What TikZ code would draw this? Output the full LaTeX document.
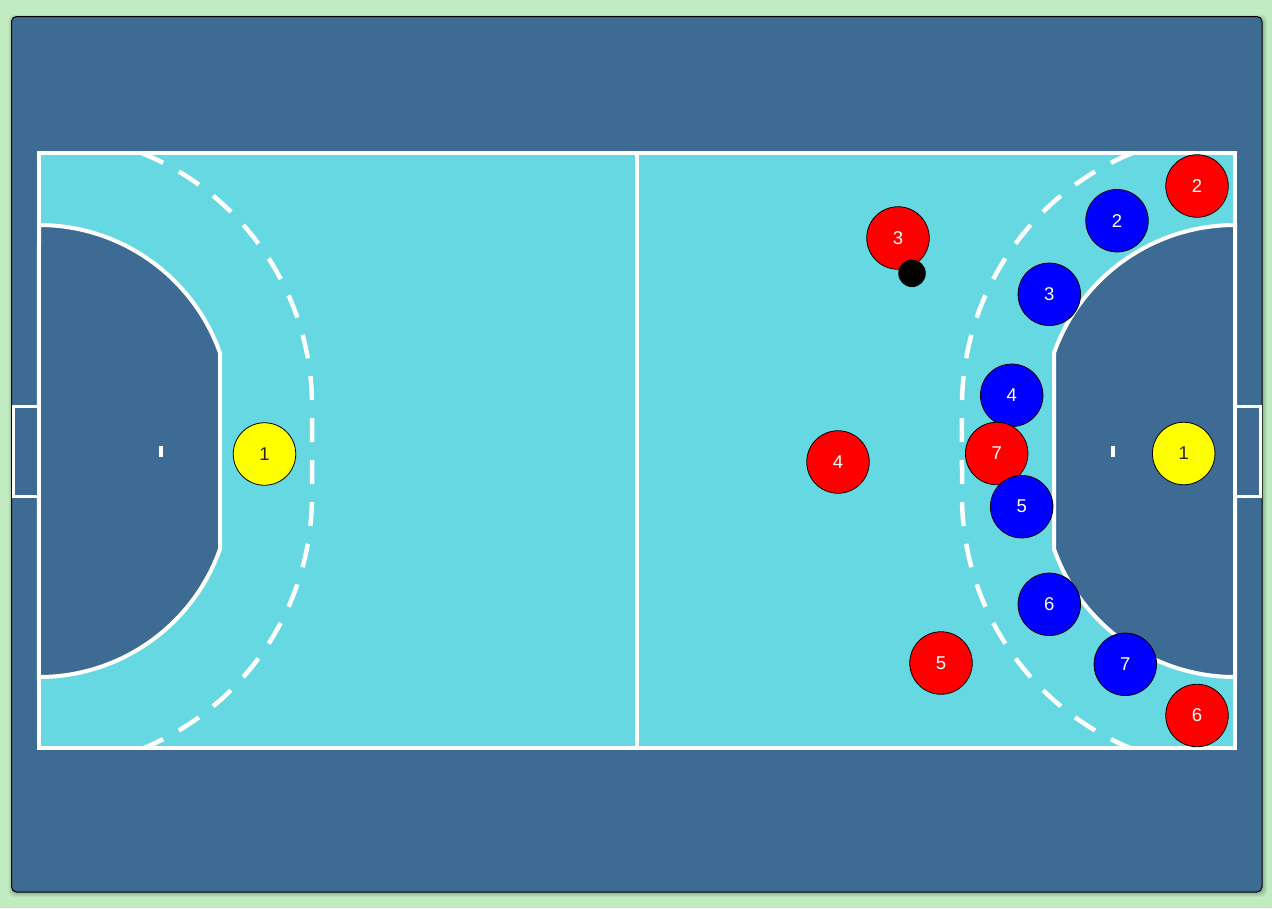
\documentclass[tikz,border=0pt]{standalone}
\usepackage{fontspec}
\setmainfont{Liberation Sans}
\definecolor{bggreen}{HTML}{C1ECC1}
\definecolor{darkblue}{HTML}{3E6B93}
\definecolor{courtcyan}{HTML}{66D8E2}
\definecolor{pred}{HTML}{FF0000}
\definecolor{pblue}{HTML}{0000FF}
\definecolor{pyellow}{HTML}{FFFF00}
\newcommand{\myHalfCourt}{%
  % 6 m goal area
  \filldraw[fill=darkblue, draw=white, line width=4pt]
    (39,225) arc[start angle=-90, end angle=-19.47, radius=192]
    -- (220,549) arc[start angle=19.47, end angle=90, radius=192] -- cycle;
  % 9 m dashed line
  \begin{scope}
    \clip (39,153) rectangle (1235,748);
    \draw[white, line width=4.5pt, dash pattern=on 24pt off 18pt]
      (141.3,152.9) arc[start angle=-68, end angle=0, radius=273]
      -- (312,496) arc[start angle=0, end angle=70, radius=273];
  \end{scope}
  % goalkeeper tick
  \fill[white] (159,446) rectangle (163,457);
  % goal
  \draw[white, line width=3pt, fill=darkblue] (39,406) -- (13.5,406) -- (13.5,496) -- (39,496);
}
\begin{document}
\begin{tikzpicture}[x=1pt, y=-1pt,
  player/.style={circle, draw=black, line width=0.8pt, minimum size=62.5pt, inner sep=0pt,
    font=\fontsize{18.5}{18.5}\selectfont},
  redp/.style={player, fill=pred, text=white},
  bluep/.style={player, fill=pblue, text=white},
  yellowp/.style={player, fill=pyellow, text=black!85},
  ballst/.style={circle, fill=black, minimum size=27.5pt, inner sep=0pt}]
\fill[bggreen] (0,0) rectangle (1272,908);
\useasboundingbox (0,0) rectangle (1272,908);
% shadow
\foreach \o/\a in {5/0.04,4/0.05,3/0.06,2/0.07}{
  \fill[black, opacity=\a, rounded corners=6pt] (11.5-\o+2,16.5-\o+3) rectangle (1262+\o,892+\o);
}
\draw[black, line width=1pt, fill=darkblue, rounded corners=5pt] (11.5,16.5) rectangle (1262,892);
% court
\fill[courtcyan] (39,153) rectangle (1235,748);
\myHalfCourt
\begin{scope}[xshift=1274pt, xscale=-1]
  \myHalfCourt
\end{scope}
\draw[white, line width=4pt] (39,153) rectangle (1235,748);
\draw[white, line width=4pt] (637,153) -- (637,748);
% players
\node[yellowp] (y1l) at (264.5,454) {1};
\node[yellowp] (y1r) at (1183.7,453.5) {1};
\node[redp] (r3) at (898,238) {3};
\node[ballst] (ball) at (912,273.3) {};
\node[redp] (r2) at (1197,186) {2};
\node[redp] (r4) at (838,462) {4};
\node[redp] (r5) at (941,663) {5};
\node[redp] (r6) at (1197,715.5) {6};
\node[bluep] (b2) at (1117,220.7) {2};
\node[bluep] (b3) at (1049.3,294.3) {3};
\node[bluep] (b4) at (1011.7,395.3) {4};
\node[redp] (r7) at (996.7,453.5) {7};
\node[bluep] (b5) at (1021.7,506.7) {5};
\node[bluep] (b6) at (1049.3,604.3) {6};
\node[bluep] (b7) at (1125.3,664.3) {7};
\end{tikzpicture}
\end{document}
